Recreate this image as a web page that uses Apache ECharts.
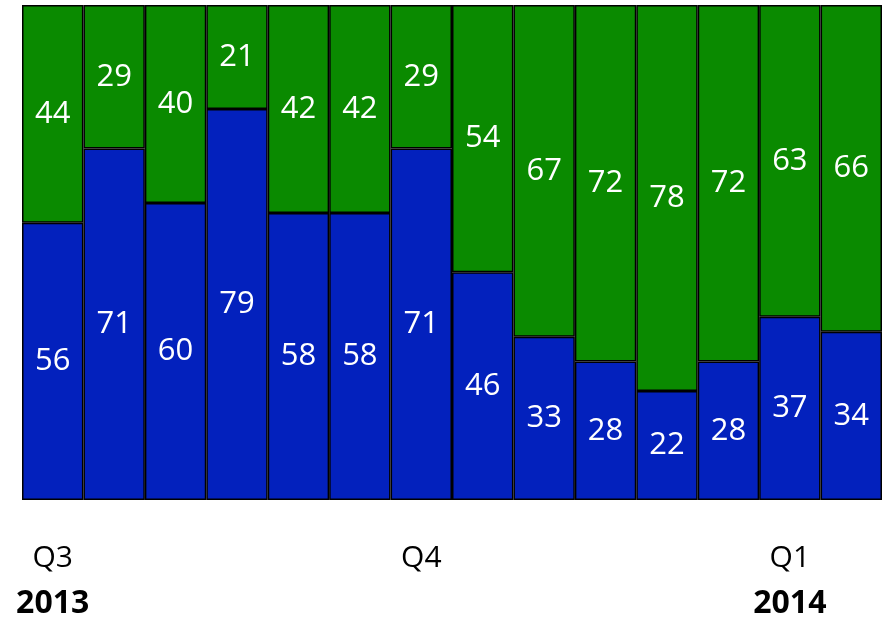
<!DOCTYPE html>
<html><head><meta charset="utf-8">
<script src="https://cdn.jsdelivr.net/npm/echarts@6/dist/echarts.min.js"></script>
<style>html,body{margin:0;padding:0;background:#fff}#c{width:883px;height:620px}</style>
</head><body><div id="c"></div>
<script>
const categories = ['1','2','3','4','5','6','7','8','9','10','11','12','13','14'];
const blueValues = [56,71,60,79,58,58,71,46,33,28,22,28,37,34];
const greenValues = [44,29,40,21,42,42,29,54,67,72,78,72,63,66];
const quarterLabels = {0:['Q3','2013'], 6:['Q4',''], 12:['Q1','2014']};

const chart = echarts.init(document.getElementById('c'));
const FONT = '"Open Sans", "Noto Sans", sans-serif';
const labelStyle = {show:true, position:'inside', color:'#fff', fontSize:31, fontFamily:FONT};
chart.setOption({
  animation:false,
  grid:{left:22, right:1, top:5, bottom:111},
  xAxis:{type:'category', data:categories,
    axisLine:{show:false}, axisTick:{show:false},
    axisLabel:{interval:0, margin:35, fontFamily:FONT,
      formatter:(v,i)=>{const q=quarterLabels[i]; if(!q) return ''; return q[1]? '{q|'+q[0]+'}\n{y|'+q[1]+'}' : '{q|'+q[0]+'}';},
      rich:{q:{fontSize:30, color:'#000', fontFamily:FONT, lineHeight:46},
            y:{fontSize:32, fontWeight:'bold', color:'#000', fontFamily:FONT, lineHeight:46}}}},
  yAxis:{type:'value', min:0, max:100, show:false, splitLine:{show:false}},
  series:[
    {type:'bar', stack:'s', data:blueValues, barCategoryGap:0, barWidth:'100%',
     itemStyle:{color:'#0321BD', borderColor:'#000', borderWidth:1.5}, label:labelStyle},
    {type:'bar', stack:'s', data:greenValues, barCategoryGap:0, barWidth:'100%',
     itemStyle:{color:'#0A8A00', borderColor:'#000', borderWidth:1.5}, label:labelStyle}
  ]
});
</script></body></html>
